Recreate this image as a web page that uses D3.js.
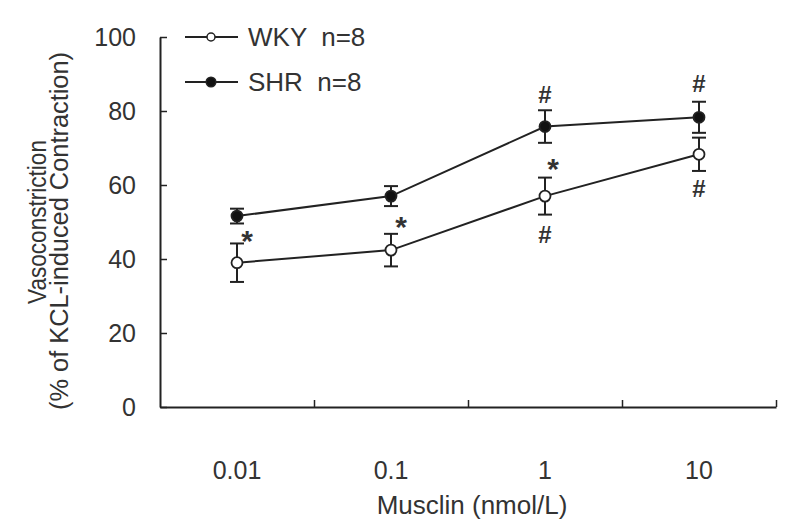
<!DOCTYPE html>
<html><head><meta charset="utf-8">
<script src="https://cdn.jsdelivr.net/npm/d3@7"></script>
<style>body{margin:0;background:#fff}svg{display:block;font-family:"Liberation Sans",Arial,sans-serif}</style>
</head><body><svg id="c" width="787" height="530"></svg>
<script>
const categories = ["0.01", "0.1", "1", "10"];
const wkyMean = [39.0, 42.4, 57.0, 68.3];
const wkyErr  = [5.2, 4.4, 5.0, 4.5];
const shrMean = [51.6, 57.0, 75.8, 78.3];
const shrErr  = [2.0, 2.7, 4.4, 4.2];
const yTicks = [0, 20, 40, 60, 80, 100];
const seriesNames = ["WKY  n=8", "SHR  n=8"];
// annotations: [category index, value position, symbol]
const annotations = [
  [0, 46.5, "*"], [1, 50.5, "*"], [2, 66.0, "*"],
  [2, 84.5, "#"], [2, 46.5, "#"], [3, 87.5, "#"], [3, 59.0, "#"]
];
const annOffsetX = [10, 10, 8, 0, 0, 0, 0];

const svg = d3.select("#c");
const ink = "#222";
const txt = "#333";
const x = d3.scaleBand().domain(categories).range([160, 776]).padding(0);
const xb = d3.scaleLinear().domain([0, 4]).range([160, 776]);
const y = d3.scaleLinear().domain([0, 100]).range([407, 37]);

// Y axis
const ya = svg.append("g").attr("transform", "translate(160,0)")
  .call(d3.axisLeft(y).tickValues(yTicks).tickSizeInner(-7).tickSizeOuter(0).tickPadding(24));
ya.select(".domain").attr("stroke", ink).attr("stroke-width", 2);
ya.selectAll(".tick line").attr("stroke", ink).attr("stroke-width", 1.5);
ya.selectAll(".tick text").attr("font-size", 25).attr("fill", txt).attr("font-family", "Liberation Sans, Arial, sans-serif");

// X axis (ticks at band boundaries)
const xa = svg.append("g").attr("transform", "translate(0,407)")
  .call(d3.axisBottom(xb).tickValues([1, 2, 3, 4]).tickFormat("").tickSizeInner(-7).tickSizeOuter(0));
xa.select(".domain").attr("stroke", ink).attr("stroke-width", 2);
xa.selectAll(".tick line").attr("stroke", ink).attr("stroke-width", 1.5);

const xl = svg.append("g").attr("transform", "translate(0,407)")
  .call(d3.axisBottom(x).tickSize(0).tickPadding(54));
xl.select(".domain").remove();
xl.selectAll(".tick text").attr("font-size", 25).attr("fill", txt).attr("font-family", "Liberation Sans, Arial, sans-serif");

// Axis titles
svg.append("text").attr("x", 472).attr("y", 514).attr("text-anchor", "middle")
  .attr("font-size", 26).attr("fill", txt).text("Musclin (nmol/L)");
svg.append("text").attr("transform", "translate(46,222) rotate(-90)").attr("text-anchor", "middle")
  .attr("font-size", 25).attr("fill", txt).attr("textLength", 164).attr("lengthAdjust", "spacingAndGlyphs").text("Vasoconstriction");
svg.append("text").attr("transform", "translate(68,231) rotate(-90)").attr("text-anchor", "middle")
  .attr("font-size", 25).attr("fill", txt).attr("textLength", 358).attr("lengthAdjust", "spacingAndGlyphs").text("(% of KCL-induced Contraction)");

const cx = c => x(c) + x.bandwidth() / 2;
function drawSeries(mean, err, filled) {
  const data = categories.map((c, i) => ({c, m: mean[i], e: err[i]}));
  svg.append("path").datum(data).attr("fill", "none").attr("stroke", ink).attr("stroke-width", 2)
    .attr("d", d3.line().x(d => cx(d.c)).y(d => y(d.m)));
  const g = svg.append("g").selectAll("g").data(data).join("g");
  g.append("line").attr("x1", d => cx(d.c)).attr("x2", d => cx(d.c))
    .attr("y1", d => y(d.m - d.e)).attr("y2", d => y(d.m + d.e)).attr("stroke", ink).attr("stroke-width", 2);
  [-1, 1].forEach(s => {
    g.append("line").attr("x1", d => cx(d.c) - 7).attr("x2", d => cx(d.c) + 7)
      .attr("y1", d => y(d.m + s * d.e)).attr("y2", d => y(d.m + s * d.e)).attr("stroke", ink).attr("stroke-width", 2);
  });
  g.append("circle").attr("cx", d => cx(d.c)).attr("cy", d => y(d.m)).attr("r", 5.5)
    .attr("fill", filled ? "#111" : "#fff").attr("stroke", ink).attr("stroke-width", 1.8);
}
drawSeries(wkyMean, wkyErr, false);
drawSeries(shrMean, shrErr, true);

// annotations
annotations.forEach((a, i) => {
  svg.append("text").attr("x", cx(categories[a[0]]) + annOffsetX[i]).attr("y", y(a[1]))
    .attr("text-anchor", "middle").attr("dominant-baseline", "central")
    .attr("font-size", a[2] === "*" ? 30 : 24).attr("font-weight", "bold").attr("fill", txt)
    .attr("dy", a[2] === "*" ? 6 : 0).text(a[2]);
});

// legend
const leg = svg.append("g");
seriesNames.forEach((name, i) => {
  const ly = 37 + i * 45;
  leg.append("line").attr("x1", 185).attr("x2", 238).attr("y1", ly).attr("y2", ly).attr("stroke", ink).attr("stroke-width", 2);
  leg.append("circle").attr("cx", 211).attr("cy", ly).attr("r", i === 0 ? 4 : 4.8)
    .attr("fill", i === 0 ? "#fff" : "#111").attr("stroke", ink).attr("stroke-width", 1.5);
  leg.append("text").attr("x", 248).attr("y", ly + 9).attr("font-size", 26).attr("fill", txt)
    .attr("xml:space", "preserve").style("white-space", "pre").text(name);
});
</script></body></html>
